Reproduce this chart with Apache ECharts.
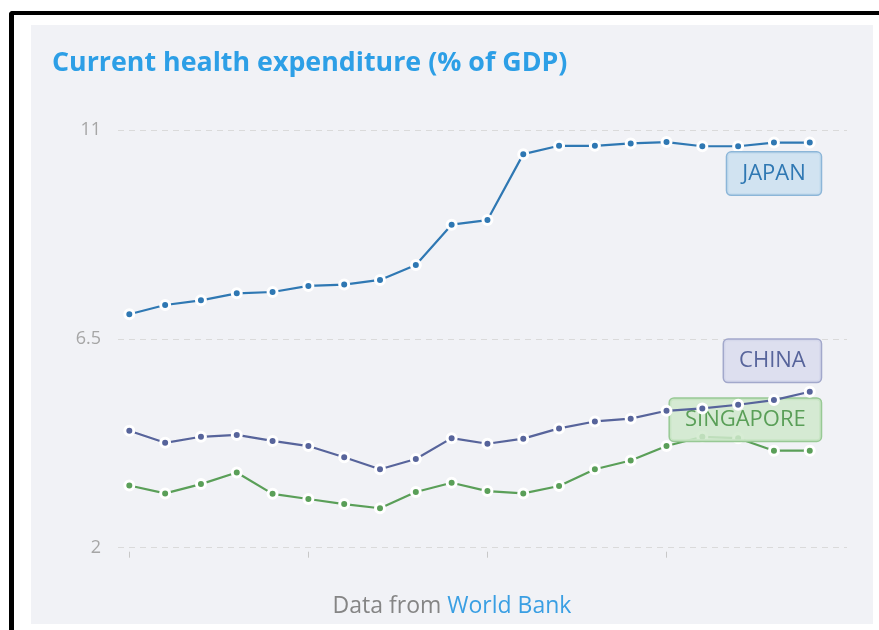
<!DOCTYPE html>
<html><head><meta charset="utf-8">
<script src="https://cdn.jsdelivr.net/npm/echarts@6/dist/echarts.min.js"></script>
<style>
html,body{margin:0;padding:0;background:#fff;width:879px;height:630px;overflow:hidden;}
#frame{position:absolute;left:9px;top:11px;width:1000px;height:1000px;border-top:4px solid #000;border-left:5px solid #000;border-top-left-radius:4px;}
#chart{position:absolute;left:31px;top:25px;width:842px;height:599px;}
</style></head><body>
<div id="frame"></div><div id="chart"></div>
<script>
const years = [2000,2001,2002,2003,2004,2005,2006,2007,2008,2009,2010,2011,2012,2013,2014,2015,2016,2017,2018,2019];
const japan = [7.03,7.23,7.33,7.48,7.51,7.64,7.67,7.77,8.09,8.96,9.06,10.48,10.66,10.66,10.71,10.74,10.65,10.65,10.73,10.73];
const china = [4.52,4.26,4.39,4.43,4.30,4.19,3.95,3.69,3.91,4.36,4.24,4.35,4.57,4.72,4.78,4.95,5.00,5.08,5.18,5.36];
const singapore = [3.34,3.17,3.37,3.62,3.16,3.05,2.94,2.85,3.20,3.40,3.22,3.17,3.33,3.69,3.88,4.19,4.39,4.36,4.09,4.09];
const yTicks = [2, 6.5, 11];
const xTicks = [2000, 2005, 2010, 2015];
const seriesNames = ['JAPAN','CHINA','SINGAPORE'];

const FONT = '"Open Sans", sans-serif';
const styles = [
  {color:'#2f78b3', bg:'rgba(205,225,241,0.9)', border:'#8cb6d8', pos:'bottom'},
  {color:'#57649b', bg:'rgba(218,221,238,0.9)', border:'#a2a8cb', pos:'top'},
  {color:'#5a9f58', bg:'rgba(208,233,205,0.85)', border:'#98c995', pos:'top'}
];
const allData = [japan, china, singapore];

function buildSeries(idx){
  const st = styles[idx];
  const vals = allData[idx];
  const data = years.map((y,i)=>{
    if(i === years.length-1){
      return {value:[y, vals[i]], label:{
        show:true, formatter: seriesNames[idx], position: st.pos, align:'right',
        offset:[11, st.pos==='top' ? 1 : -1],
        color: st.color, fontFamily: FONT, fontSize: 22, lineHeight: 24,
        backgroundColor: st.bg, borderColor: st.border, borderWidth: 1.5, borderRadius: 4,
        padding:[9,15,9,15], distance: 5
      }};
    }
    return [y, vals[i]];
  });
  return {
    name: seriesNames[idx], type:'line', data,
    symbol:'circle', symbolSize:9, showSymbol:true,
    lineStyle:{color:st.color, width:2.2},
    itemStyle:{color:st.color, borderColor:'#fff', borderWidth:3},
    z: 3 - idx, animation:false
  };
}

const chart = echarts.init(document.getElementById('chart'), null, {renderer:'canvas'});
chart.setOption({
  backgroundColor:'#f1f2f6',
  animation:false,
  title:[
    {text:'Current health expenditure (% of GDP)', left:21, top:25, padding:0,
     textStyle:{color:'#2d9fe6', fontFamily:FONT, fontWeight:'bold', fontSize:26.8}},
    {text:'{a|Data from }{b|World Bank}', left:'center', top:570, padding:0,
     textStyle:{rich:{a:{color:'#858585', fontFamily:FONT, fontWeight:'normal', fontSize:23},
                      b:{color:'#3a9fe3', fontFamily:FONT, fontWeight:'normal', fontSize:23}}}}
  ],
  grid:{left:87, right:26, top:105, bottom:76.3},
  xAxis:{
    type:'value', min:1999.684, max:2020.04, offset:4,
    axisLine:{show:false},
    axisTick:{show:true, customValues: xTicks, length:6, lineStyle:{color:'#c8c8c8', width:1}},
    axisLabel:{show:false},
    splitLine:{show:false}
  },
  yAxis:{
    type:'value', min:2, max:11, interval:4.5,
    axisLine:{show:false}, axisTick:{show:false},
    axisLabel:{color:'#a6a6a6', fontFamily:FONT, fontSize:18, margin:17,
      customValues: yTicks, formatter: v => String(v)},
    splitLine:{show:true, lineStyle:{color:'#dadada', width:1, type:[6,5]}}
  },
  series:[buildSeries(0), buildSeries(1), buildSeries(2)]
});
</script>
</body></html>
